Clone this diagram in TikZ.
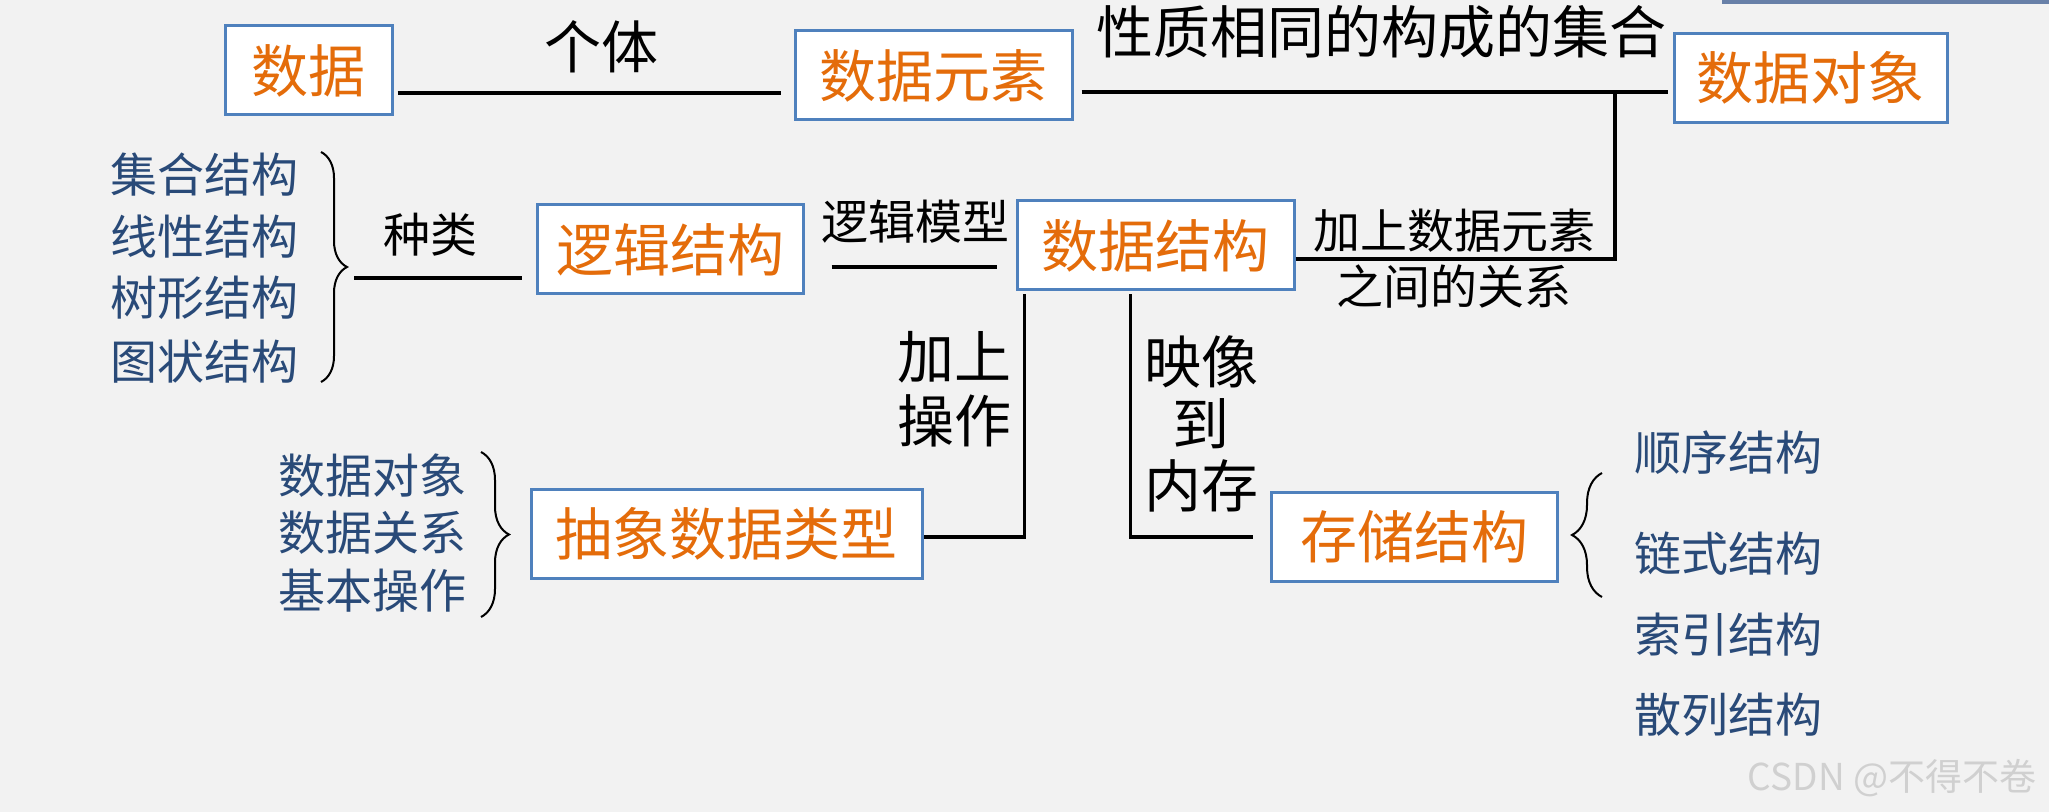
\documentclass[tikz,border=0pt]{standalone}
\usepackage{fontspec}
\setmainfont{Noto Sans CJK SC}
\usetikzlibrary{decorations.pathreplacing}

\definecolor{rahmenblau}{RGB}{79,129,189}
\definecolor{textorange}{RGB}{228,108,10}
\definecolor{listblau}{RGB}{41,74,120}
\definecolor{hintergrund}{RGB}{242,242,242}
\definecolor{wasserzeichen}{RGB}{208,208,208}
\definecolor{fotostreifen}{RGB}{104,128,168}

\newcommand{\grossschrift}{\fontsize{28.5pt}{32pt}\selectfont}
\newcommand{\kleinschrift}{\fontsize{23.5pt}{28pt}\selectfont}

\begin{document}
\begin{tikzpicture}[x=0.5pt, y=-0.5pt,
    kasten/.style={draw=rahmenblau, line width=1.5pt, fill=white, text=textorange,
        font=\grossschrift, minimum height=44.5pt, inner sep=2pt},
    linie/.style={line width=1.6pt},
    gross/.style={font=\grossschrift, align=center, inner sep=0pt},
    klein/.style={font=\kleinschrift, align=center, inner sep=0pt},
    eintrag/.style={font=\kleinschrift, text=listblau, inner sep=0pt},
    klammer/.style={decorate, decoration={brace, amplitude=#1}, line width=1pt}]

    % Hintergrund und Rand
    \fill[hintergrund] (0,0) rectangle (2049,812);
    \useasboundingbox (0,0) rectangle (2049,812);
    \fill[fotostreifen] (1722,0) rectangle (2049,4);

    % Kaesten
    \node[kasten, minimum width=83.5pt]  (daten)    at (308.5,70.5) {数据};
    \node[kasten, minimum width=138.5pt] (element)  at (933.5,75.5) {数据元素};
    \node[kasten, minimum width=136.5pt] (objekt)   at (1810.5,78)  {数据对象};
    \node[kasten, minimum width=138.5pt] (struktur) at (1155.5,245.5) {数据结构};
    \node[kasten, minimum width=133pt]   (logik)    at (670,249.5)  {逻辑结构};
    \node[kasten, minimum width=195.5pt] (adt)      at (726.5,534)  {抽象数据类型};
    \node[kasten, minimum width=143pt]   (speicher) at (1414,536.5) {存储结构};

    % Beschriftungen der Verbindungen
    \node[gross] (individuum) at (601,47)   {个体};
    \node[gross] (menge)      at (1381,32)  {性质相同的构成的集合};
    \node[klein] (arten)      at (430,235)  {种类};
    \node[klein] (modell)     at (915,222)  {逻辑模型};
    \node[klein] (beziehung)  at (1454,259) {加上数据元素\\之间的关系};
    \node[gross] (operation)  at (954,389)  {加上\\操作};
    \node[font=\fontsize{28.5pt}{31pt}\selectfont, align=center, inner sep=0pt]
        (abbildung) at (1201,424) {映像\\到\\内存};

    % Verbindungslinien
    \coordinate (knick) at (1615,92);
    \coordinate (artenende) at (354,278);
    \draw[linie] ([shift={(4,22.5)}]daten.east) -- ([shift={(-13,17.5)}]element.west);
    \draw[linie] ([shift={(8,16.5)}]element.east) -- ([shift={(-5,14)}]objekt.west);
    \draw[linie] ([shift={(0,13.5)}]struktur.east) -| (knick);
    \draw[linie] ([shift={(27,17.5)}]logik.east) -- ([shift={(-19,21.5)}]struktur.west);
    \draw[linie] (artenende) -- ([shift={(-14,28.5)}]logik.west);
    \draw[linie] ([shift={(9,3)}]struktur.south west) |- ([shift={(0,3)}]adt.east);
    \draw[linie] ([shift={(115,3)}]struktur.south west) |- ([shift={(-17,0.5)}]speicher.west);

    % Arten der logischen Struktur
    \foreach \txt/\yy [count=\i] in {集合结构/175, 线性结构/237, 树形结构/298, 图状结构/362}
        \node[eintrag] (art\i) at (204,\yy) {\txt};
    \draw[klammer=13pt] (321,152) -- (321,382);

    % Bestandteile des ADT
    \foreach \txt/\yy [count=\i] in {数据对象/476, 数据关系/533, 基本操作/591}
        \node[eintrag] (teil\i) at (372,\yy) {\txt};
    \draw[klammer=14pt] (481,452) -- (481,617);

    % Speicherformen
    \foreach \txt/\yy [count=\i] in {顺序结构/453, 链式结构/554, 索引结构/635, 散列结构/715}
        \node[eintrag] (form\i) at (1728,\yy) {\txt};
    \draw[klammer=15pt] (1602,597) -- (1602,473);

    % Wasserzeichen
    \node[text=wasserzeichen, font=\fontsize{18.5pt}{22pt}\selectfont, inner sep=0pt]
        (marke) at (1892,778) {CSDN @不得不卷};

\end{tikzpicture}
\end{document}
